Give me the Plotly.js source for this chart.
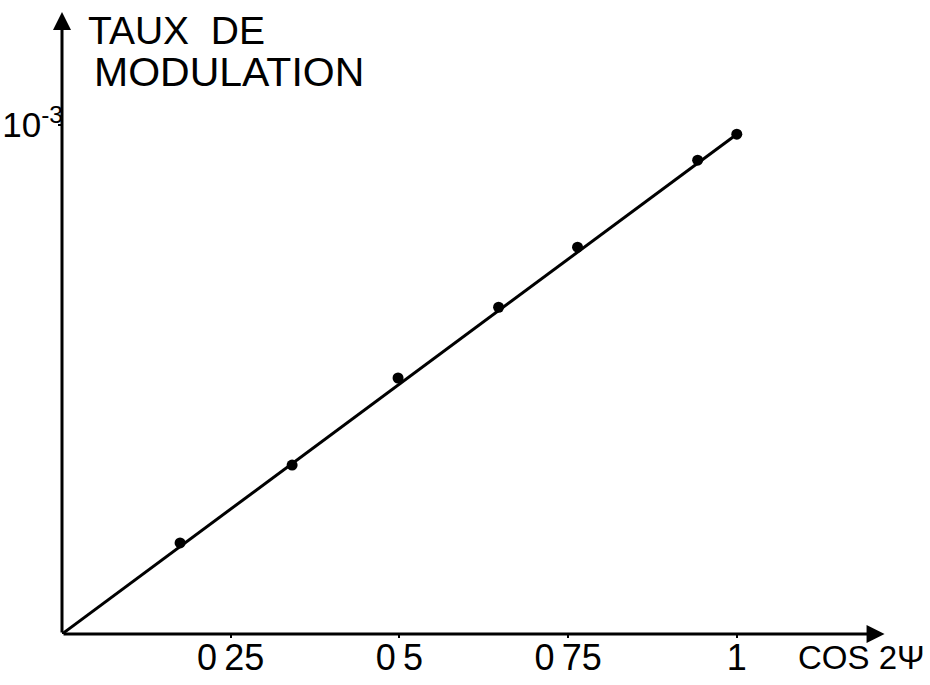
<!DOCTYPE html>
<html>
<head>
<meta charset="utf-8">
<script src="https://cdn.plot.ly/plotly-3.0.1.min.js"></script>
<style>html,body{margin:0;padding:0;background:#fff;}#chart{width:930px;height:685px;}</style>
</head>
<body>
<div id="chart"></div>
<script>
// Measured points: cos 2psi vs modulation rate (units of 1e-3)
const cos2psi = [0.175, 0.341, 0.498, 0.647, 0.764, 0.942, 1.0];
const modulation = [0.179, 0.332, 0.503, 0.642, 0.760, 0.931, 0.982];
// Fitted straight line through origin
const fitX = [0, 1.0];
const fitY = [0, 0.982];
// Tick labels
const xTickVals = [0.25, 0.5, 0.75, 1];
const xTickText = ['0\u200925', '0\u20095', '0\u200975', '1'];
const yTickVals = [1];
const yTickText = ['10<sup>-3</sup>'];
const xTitle = 'COS 2Ψ';
const yTitleLines = ['TAUX  DE', 'MODULATION'];

const FONT = 'Liberation Sans, Arial, sans-serif';

const traces = [
  {x: fitX, y: fitY, mode: 'lines', line: {color: '#000', width: 3}, hoverinfo: 'skip', showlegend: false},
  {x: cos2psi, y: modulation, mode: 'markers', marker: {color: '#000', size: 11}, showlegend: false}
];

const layout = {
  width: 930, height: 685,
  margin: {l: 62, r: 38, t: 8, b: 51},
  paper_bgcolor: '#fff', plot_bgcolor: '#fff',
  showlegend: false,
  xaxis: {
    range: [0, 1.23], showgrid: false, zeroline: false, showline: false,
    tickvals: xTickVals, ticktext: xTickText,
    ticks: 'outside', ticklen: 3, tickwidth: 2, tickcolor: '#000',
    ticklabelstandoff: -11,
    tickfont: {family: FONT, size: 36, color: '#000'}
  },
  yaxis: {
    range: [0, 1.23], showgrid: false, zeroline: false, showline: false,
    tickvals: yTickVals, ticktext: yTickText,
    ticks: 'outside', ticklen: 3, tickwidth: 2, tickcolor: '#000',
    ticklabelstandoff: -12,
    tickfont: {family: FONT, size: 35, color: '#000'}
  },
  annotations: [
    {x: 1.219, y: 0, ax: 0, ay: 0, xref: 'x', yref: 'y', axref: 'x', ayref: 'y',
     showarrow: true, arrowhead: 2, arrowsize: 1.2, arrowwidth: 3, arrowcolor: '#000', text: ''},
    {x: 0, y: 1.222, ax: 0, ay: 0, xref: 'x', yref: 'y', axref: 'x', ayref: 'y',
     showarrow: true, arrowhead: 2, arrowsize: 1.2, arrowwidth: 3, arrowcolor: '#000', text: ''},
    {xref: 'paper', yref: 'paper', x: (796 - 62) / 830, y: (685 - 51 - 657) / 626,
     xanchor: 'left', yanchor: 'middle', showarrow: false, text: xTitle,
     font: {family: FONT, size: 33, color: '#000'}},
    {xref: 'paper', yref: 'paper', x: (86 - 62) / 830, y: (634 - 30) / 626,
     xanchor: 'left', yanchor: 'middle', showarrow: false, text: yTitleLines[0],
     font: {family: FONT, size: 39, color: '#000'}},
    {xref: 'paper', yref: 'paper', x: (92 - 62) / 830, y: (634 - 72) / 626,
     xanchor: 'left', yanchor: 'middle', showarrow: false, text: yTitleLines[1],
     font: {family: FONT, size: 41, color: '#000'}}
  ]
};

Plotly.newPlot('chart', traces, layout, {staticPlot: true, displayModeBar: false});
</script>
</body>
</html>
